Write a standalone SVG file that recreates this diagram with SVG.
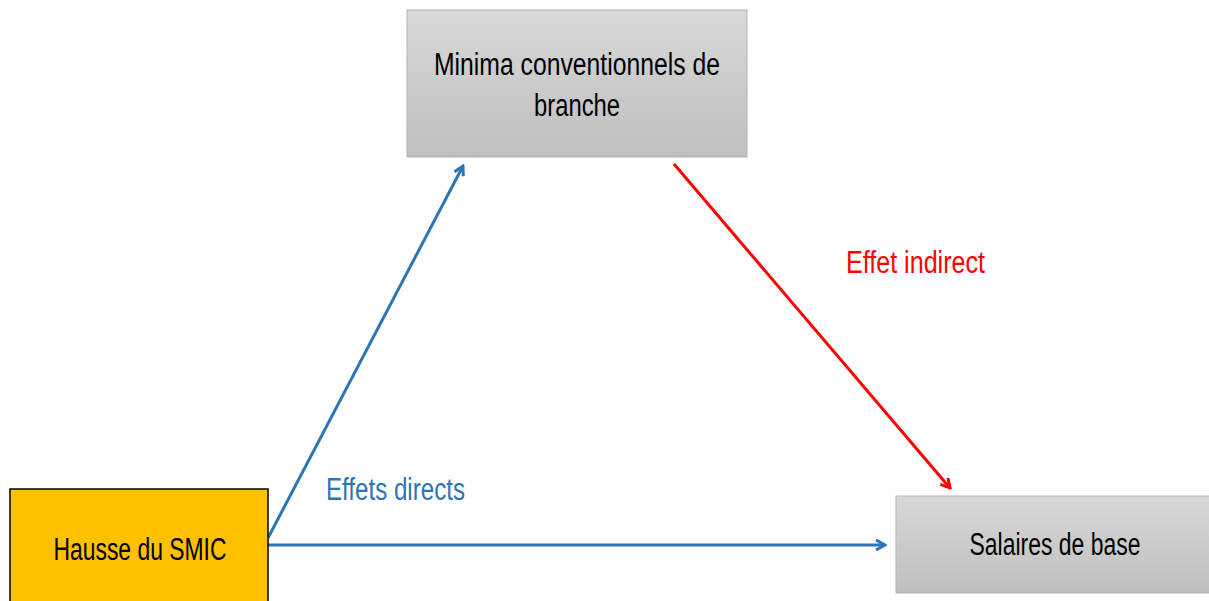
<svg xmlns="http://www.w3.org/2000/svg" width="1209" height="601" viewBox="0 0 1209 601">
<defs>
<linearGradient id="gray" x1="0" y1="0" x2="0" y2="1">
<stop offset="0" stop-color="#d8d8d8"/>
<stop offset="1" stop-color="#bfbfbf"/>
</linearGradient>
<marker id="arrBlue" markerWidth="12" markerHeight="12" refX="10" refY="6" orient="auto" markerUnits="userSpaceOnUse">
<path d="M1,1 L10,6 L1,11" fill="none" stroke="#2e75b6" stroke-width="3"/>
</marker>
<marker id="arrRed" markerWidth="12" markerHeight="12" refX="10" refY="6" orient="auto" markerUnits="userSpaceOnUse">
<path d="M1,1 L10,6 L1,11" fill="none" stroke="#ff0000" stroke-width="3"/>
</marker>
</defs>
<style>
.gbox{fill:url(#gray);stroke:#b3b3b3;stroke-width:1}
.t{font-family:"Liberation Sans",Arial,sans-serif;font-size:31px;fill:#000;text-anchor:middle}
.lbl{font-family:"Liberation Sans",Arial,sans-serif;font-size:31px}
.blue{stroke:#2e75b6;stroke-width:3;fill:none}
.red{stroke:#ff0000;stroke-width:3;fill:none}
</style>
<rect width="1209" height="601" fill="#fff"/>
<g id="connectors">
<line class="blue" x1="268" y1="538" x2="463" y2="166" marker-end="url(#arrBlue)"/>
<line class="blue" x1="268" y1="545" x2="885" y2="545" marker-end="url(#arrBlue)"/>
<line class="red" x1="674" y1="164" x2="950" y2="488" marker-end="url(#arrRed)"/>
<text class="lbl" x="326" y="500" fill="#2e75b6" textLength="139" lengthAdjust="spacingAndGlyphs">Effets directs</text>
<text class="lbl" x="846" y="273" fill="#ff0000" textLength="139" lengthAdjust="spacingAndGlyphs">Effet indirect</text>
</g>
<g id="minima">
<rect class="gbox" x="407" y="10" width="340" height="147"/>
<text class="t" x="577" y="75" textLength="286" lengthAdjust="spacingAndGlyphs">Minima conventionnels de</text>
<text class="t" x="577" y="116" textLength="86" lengthAdjust="spacingAndGlyphs">branche</text>
</g>
<g id="hausse">
<rect x="10" y="489" width="258" height="120" fill="#ffc000" stroke="#000" stroke-width="1.5"/>
<text class="t" x="140" y="560" textLength="173" lengthAdjust="spacingAndGlyphs">Hausse du SMIC</text>
</g>
<g id="salaires">
<rect class="gbox" x="896" y="496" width="320" height="97"/>
<text class="t" x="1055" y="555" textLength="171" lengthAdjust="spacingAndGlyphs">Salaires de base</text>
</g>
</svg>
